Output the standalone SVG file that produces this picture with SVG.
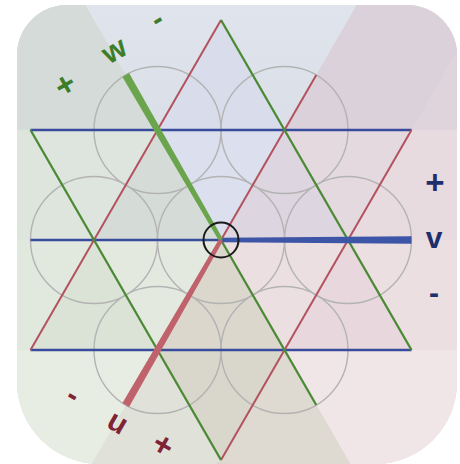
<svg xmlns="http://www.w3.org/2000/svg" width="460" height="464" viewBox="0 0 460 464">
<defs>
<clipPath id="card">
<path d="M67,5 H407 A50,50 0 0 1 457,55 V382 A82,82 0 0 1 375,464 H100 A83,82 0 0 1 17,382 V55 A50,50 0 0 1 67,5 Z"/>
</clipPath>
<linearGradient id="topGrad" x1="0" y1="0" x2="0" y2="1" gradientUnits="objectBoundingBox">
<stop offset="0.3" stop-color="#e0e4ec"/>
<stop offset="1" stop-color="#d6dae3"/>
</linearGradient>
<style>
.circ{fill:none;stroke:#b3b3b3;stroke-width:1.4}
.blue{stroke:#394c9c;stroke-width:2.6;fill:none}
.red{stroke:#b3525e;stroke-width:2;fill:none}
.green{stroke:#4b8a34;stroke-width:2.3;fill:none}
.lbl{font-family:"Liberation Sans",Arial,sans-serif;font-weight:bold;font-size:30px;text-anchor:middle}
.pl{font-size:33px}
.lw{fill:#3c7d2a}
.lv{fill:#1d2f6d}
.lu{fill:#7e2434}
</style>
</defs>

<g id="background" clip-path="url(#card)">
<rect x="0" y="0" width="460" height="464" fill="#e2e4e4"/>
<polygon points="221,240 417.3,-100 24.7,-100" fill="url(#topGrad)"/>
<polygon points="221,240 600,240 600,-100 417.3,-100" fill="#e8dbe0"/>
<polygon points="284.5,130 600,130 600,-100 417.3,-100" fill="#dad1db"/>
<polygon points="411.5,130 544.3,-100 600,-100 600,130" fill="#dfd4dc"/>
<polygon points="221,240 600,240 600,600 428.8,600" fill="#ecdfe2"/>
<polygon points="284.5,350 600,350 600,600 428.8,600" fill="#f1e6e7"/>
<polygon points="221,240 428.8,600 13.2,600" fill="#dbd8cf"/>
<polygon points="157.5,350 221,460 13.2,600" fill="#e0e1d8"/>
<polygon points="284.5,350 221,460 428.8,600" fill="#dedad1"/>
<polygon points="221,240 13.2,600 -100,600 -100,240" fill="#e1e8dd"/>
<polygon points="157.5,350 -100,350 -100,600 13.2,600" fill="#e8ede4"/>
<polygon points="221,240 -100,240 -100,-100 24.7,-100" fill="#dee5dc"/>
<polygon points="157.5,130 -100,130 -100,-100 24.7,-100" fill="#d4dbd8"/>
<polygon points="221,20 157.5,130 284.5,130" fill="#d9ddeb"/>
<polygon points="411.5,130 284.5,130 348,240" fill="#e5d9e0"/>
<polygon points="411.5,350 348,240 284.5,350" fill="#e8d8dd"/>
<polygon points="221,460 284.5,350 157.5,350" fill="#d9d6cc"/>
<polygon points="30.5,350 157.5,350 94,240" fill="#dbe3d6"/>
<polygon points="30.5,130 94,240 157.5,130" fill="#dee5de"/>
<polygon points="221,240 157.5,130 284.5,130" fill="#dcdfed"/>
<polygon points="221,240 284.5,130 348,240" fill="#ddd5df"/>
<polygon points="221,240 348,240 284.5,350" fill="#ecdfe2"/>
<polygon points="221,240 284.5,350 157.5,350" fill="#dbd7cd"/>
<polygon points="221,240 157.5,350 94,240" fill="#e4e9e0"/>
<polygon points="221,240 94,240 157.5,130" fill="#d5dcd7"/>
</g>

<g id="circles">
<circle class="circ" cx="157.5" cy="130" r="63.5"/>
<circle class="circ" cx="284.5" cy="130" r="63.5"/>
<circle class="circ" cx="94" cy="240" r="63.5"/>
<circle class="circ" cx="221" cy="240" r="63.5"/>
<circle class="circ" cx="348" cy="240" r="63.5"/>
<circle class="circ" cx="157.5" cy="350" r="63.5"/>
<circle class="circ" cx="284.5" cy="350" r="63.5"/>
</g>

<g id="connectors">
<line class="blue" x1="30.5" y1="130" x2="411.5" y2="130"/>
<line class="blue" x1="30.5" y1="240" x2="221" y2="240"/>
<line class="blue" x1="30.5" y1="350" x2="411.5" y2="350"/>
<line class="red" x1="30.5" y1="350" x2="221" y2="20"/>
<line class="red" x1="221" y1="240" x2="316.25" y2="75"/>
<line class="red" x1="221" y1="460" x2="411.5" y2="130"/>
<line class="green" x1="221" y1="20" x2="411.5" y2="350"/>
<line class="green" x1="221" y1="240" x2="316.25" y2="405"/>
<line class="green" x1="30.5" y1="130" x2="221" y2="460"/>
<polygon id="v-axis" points="221,237.8 411.5,236.2 411.5,243.8 221,242.2" fill="#3d55a6"/>
<polygon id="w-axis" points="222.9,238.9 129.04,73.1 122.46,76.9 219.1,241.1" fill="#6aa44d"/>
<polygon id="u-axis" points="222.9,241.1 129.04,406.9 122.46,403.1 219.1,238.9" fill="#c0626c"/>
</g>

<g id="origin">
<circle cx="221" cy="240" r="17.5" fill="none" stroke="#1a1a1a" stroke-width="2"/>
</g>

<g id="label-w">
<text class="lbl lw pl" transform="translate(65,85) rotate(-30)" x="0" y="11">+</text>
<text class="lbl lw" transform="translate(115,52) rotate(-30)" x="0" y="8">w</text>
<text class="lbl lw" transform="translate(158,21) rotate(-30)" x="0" y="7.5">-</text>
</g>
<g id="label-v">
<text class="lbl lv pl" x="435" y="194">+</text>
<text class="lbl lv" x="434" y="248">v</text>
<text class="lbl lv" x="434" y="302.5">-</text>
</g>
<g id="label-u">
<text class="lbl lu" transform="translate(72,397) rotate(30)" x="0" y="7.5">-</text>
<text class="lbl lu" transform="translate(117,424) rotate(30)" x="0" y="8">u</text>
<text class="lbl lu pl" transform="translate(163,445) rotate(30)" x="0" y="11">+</text>
</g>
</svg>
